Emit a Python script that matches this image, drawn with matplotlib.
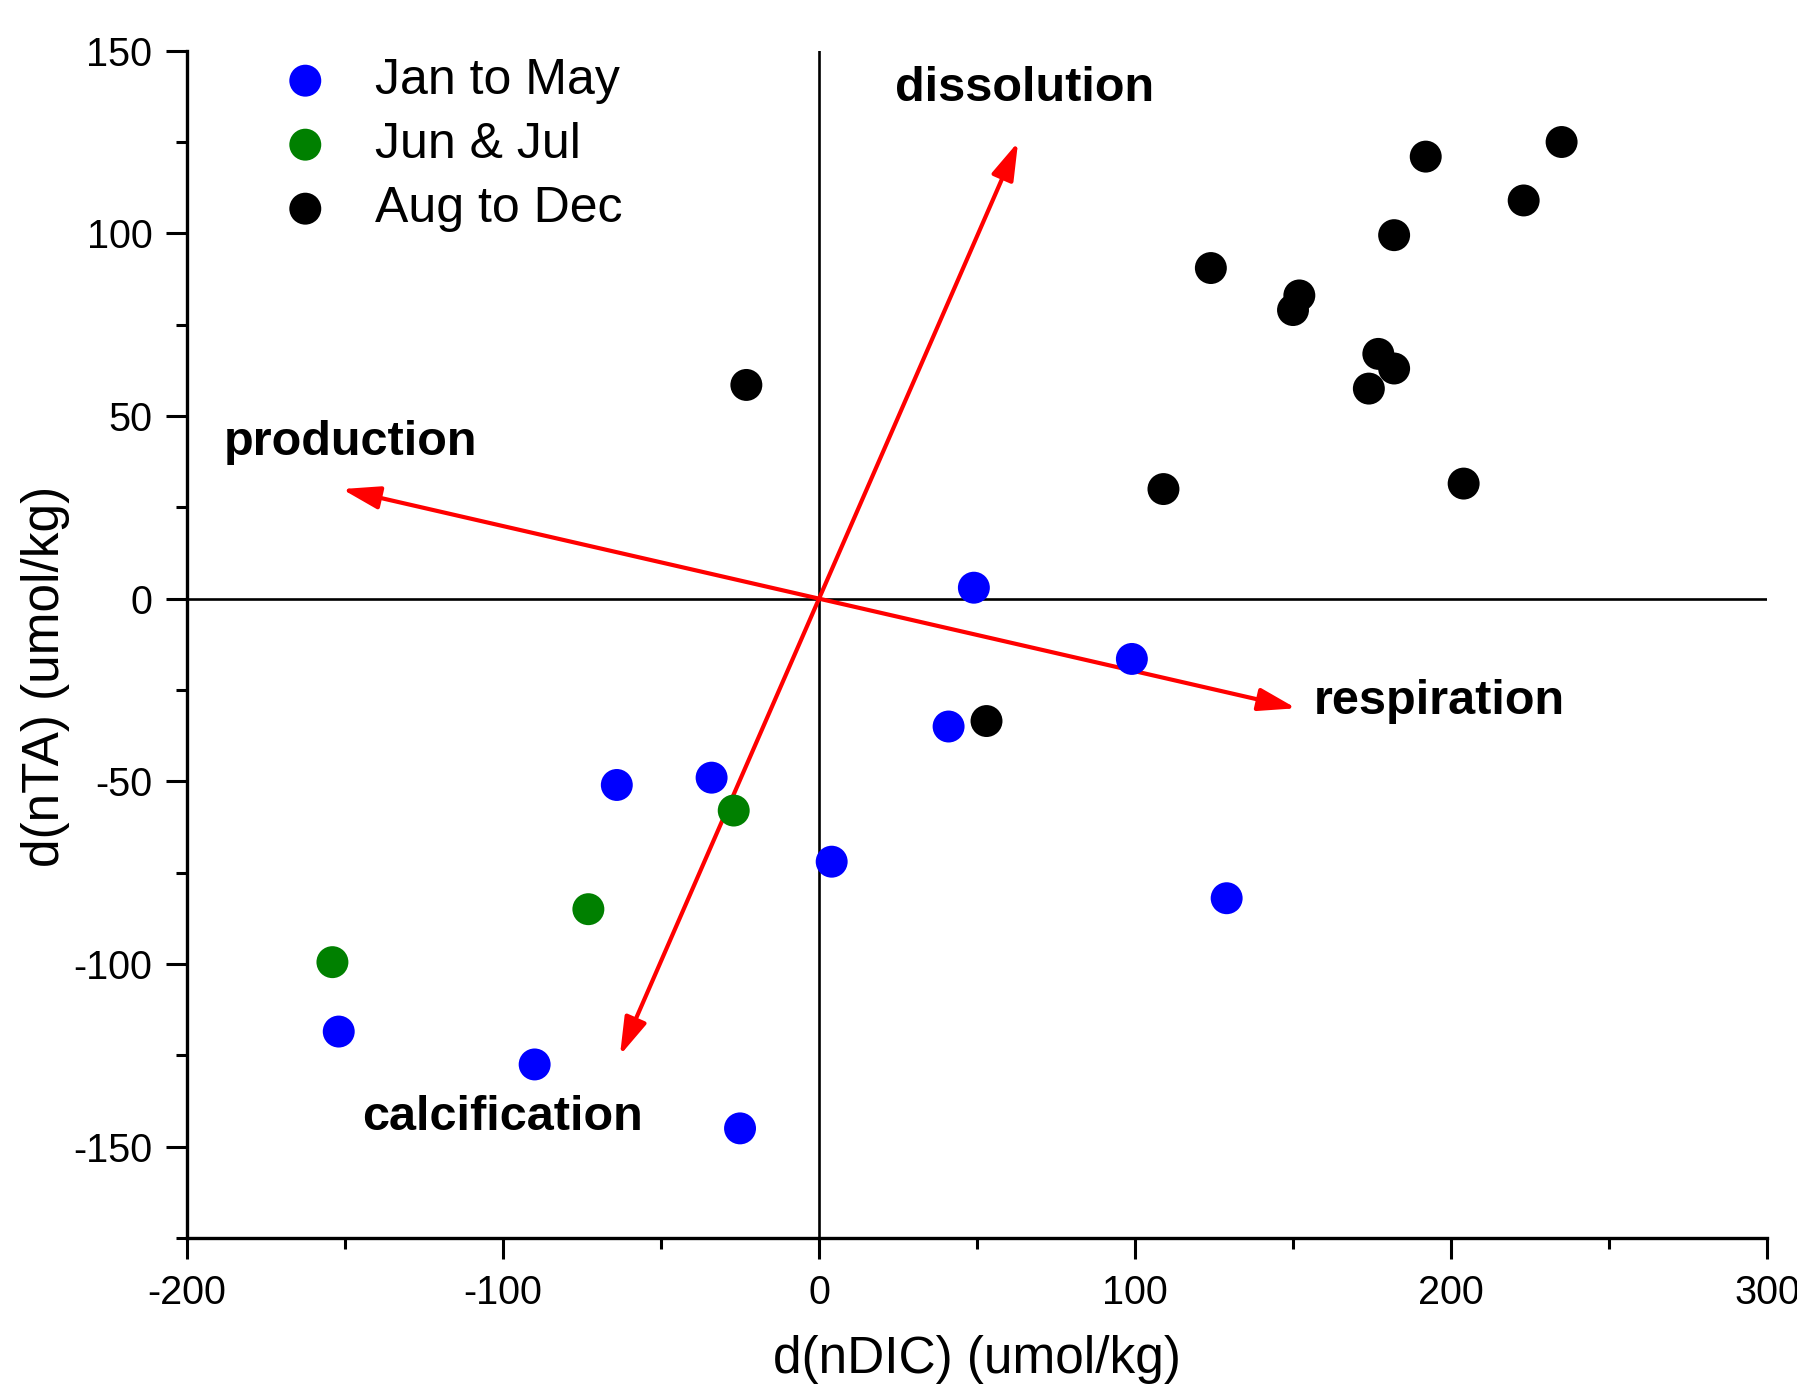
import matplotlib
matplotlib.use("Agg")
import matplotlib.pyplot as plt
from matplotlib.patches import FancyArrowPatch
from matplotlib.ticker import MultipleLocator

plt.rcParams['font.family'] = ['Liberation Sans', 'DejaVu Sans']
plt.rcParams['axes.unicode_minus'] = False

# ---- data ----
series_labels = ["Jan to May", "Jun & Jul", "Aug to Dec"]
series_colors = ["#0000FF", "#008000", "#000000"]

jan_may_x = [49, 99, 41, -34, -64, 4, 129, -152, -90, -25]
jan_may_y = [3, -16.5, -35, -49, -51, -72, -82, -118.5, -127.5, -145]

jun_jul_x = [-27, -73, -154]
jun_jul_y = [-58, -85, -99.5]

aug_dec_x = [-23, 235, 192, 223, 182, 124, 152, 150, 177, 182, 174, 109, 204, 53]
aug_dec_y = [58.5, 125, 121, 109, 99.5, 90.5, 83, 79, 67, 63, 57.5, 30, 31.5, -33.5]

# process vectors (double-headed arrows through origin)
vector_ends = [((-63, -125), (63, 125)),      # calcification <-> dissolution
               ((-151, 30), (151, -30))]      # production <-> respiration
vector_labels = ["dissolution", "production", "respiration", "calcification"]
label_pos = [(24, 139.7), (-188.5, 42.8), (156.5, -28.1), (-144.5, -141.9)]

x_label = "d(nDIC) (umol/kg)"
y_label = "d(nTA) (umol/kg)"

# ---- figure ----
fig = plt.figure(figsize=(17.97, 13.96), dpi=100)
ax = fig.add_axes([0.1041, 0.1132, 0.8792, 0.8505])

ax.set_xlim(-200, 300)
ax.set_ylim(-175, 150)

ax.axhline(0, color='black', lw=1.9, zorder=1)
ax.axvline(0, color='black', lw=1.9, zorder=1)

for (a, b) in vector_ends:
    arr = FancyArrowPatch(a, b, arrowstyle='<|-|>,head_length=2.3,head_width=0.7',
                          mutation_scale=10, color='#FF0000', lw=3,
                          shrinkA=0, shrinkB=0, zorder=2)
    ax.add_patch(arr)

for xs, ys, lab, col in zip([jan_may_x, jun_jul_x, aug_dec_x],
                            [jan_may_y, jun_jul_y, aug_dec_y],
                            series_labels, series_colors):
    ax.scatter(xs, ys, s=529, color=col, edgecolors='none', label=lab, zorder=3)

for txt, (tx, ty) in zip(vector_labels, label_pos):
    ax.text(tx, ty, txt, fontsize=35, fontweight='bold', ha='left', va='center', zorder=4)

# spines / ticks
for s in ['top', 'right']:
    ax.spines[s].set_visible(False)
for s in ['left', 'bottom']:
    ax.spines[s].set_linewidth(2.4)

ax.xaxis.set_major_locator(MultipleLocator(100))
ax.xaxis.set_minor_locator(MultipleLocator(50))
ax.yaxis.set_major_locator(MultipleLocator(50))
ax.yaxis.set_minor_locator(MultipleLocator(25))
ax.tick_params(which='major', direction='out', length=15, width=2.2, labelsize=28.5)
ax.tick_params(which='minor', direction='out', length=8, width=2.2)
ax.tick_params(axis='x', which='major', pad=11)
ax.tick_params(axis='y', which='major', pad=10)

ax.set_xlabel(x_label, fontsize=37)
ax.set_ylabel(y_label, fontsize=37)
ax.xaxis.set_label_coords(0.5, -0.082)
ax.yaxis.set_label_coords(-0.074, 0.473)

leg = ax.legend(loc='upper left', bbox_to_anchor=(0.059, 0.994), frameon=False,
                fontsize=36, handlelength=1.0, handletextpad=0.9,
                labelspacing=0.36, borderpad=0, borderaxespad=0,
                markerscale=1.0, scatterpoints=1)

fig.savefig("out.png", dpi=100)
